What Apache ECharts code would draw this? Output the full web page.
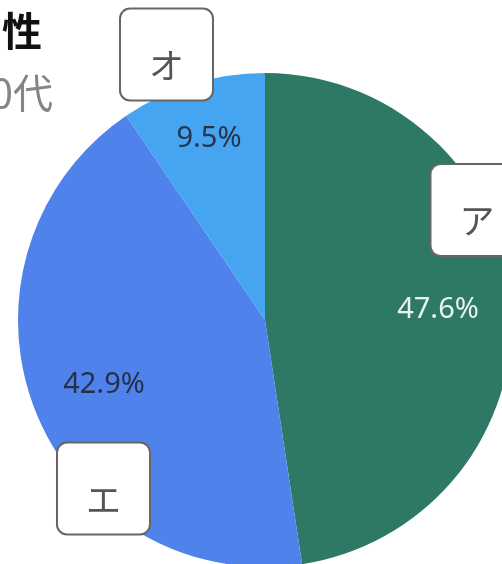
<!DOCTYPE html>
<html><head><meta charset="utf-8">
<script src="https://cdn.jsdelivr.net/npm/echarts@6/dist/echarts.min.js"></script>
<style>html,body{margin:0;padding:0;background:#fff;overflow:hidden}#c{width:502px;height:564px}</style>
</head><body><div id="c"></div>
<script>
// ---- data ----
const categories = ['ア', 'エ', 'オ'];
const values = [47.6, 42.9, 9.5];
const titleText = '男性';
const subtitleText = '20代';

// ---- styles ----
const sliceColors = ['#2e7866', '#5082eb', '#46a5f0'];
const pctColors = ['#e8f2ee', '#27304a', '#27344c'];
const pctPos = [[438, 310], [104, 385], [209, 139]];
const boxPos = [[477, 210], [103.5, 488.5], [166.5, 54.5]];

const chart = echarts.init(document.getElementById('c'), null, {renderer: 'canvas'});

const pieData = categories.map((name, i) => ({
  name: name,
  value: values[i],
  itemStyle: {color: sliceColors[i]},
  label: {color: pctColors[i]}
}));
const boxData = categories.map((name, i) => ({name: name, value: values[i]}));

const common = {
  type: 'pie',
  center: [265, 320],
  radius: [0, 247],
  startAngle: 90,
  clockwise: true,
  avoidLabelOverlap: false,
  labelLine: {show: false},
  emphasis: {disabled: true},
  animation: false
};

chart.setOption({
  backgroundColor: '#ffffff',
  animation: false,
  graphic: [
    {type: 'text', x: 42, y: 31, style: {text: titleText, align: 'right', verticalAlign: 'middle',
      font: 'bold 40px "Noto Sans CJK JP"', fill: '#111111'}},
    {type: 'text', x: 53, y: 93, style: {text: subtitleText, align: 'right', verticalAlign: 'middle',
      font: '40px "Noto Sans CJK JP"', fill: '#858585'}}
  ],
  series: [
    Object.assign({}, common, {
      data: pieData,
      itemStyle: {borderWidth: 0},
      label: {
        show: true, position: 'inside',
        formatter: p => p.value.toFixed(1) + '%',
        fontFamily: 'Noto Sans', fontSize: 29, fontWeight: 'normal'
      },
      labelLayout: function (params) {
        const p = pctPos[params.dataIndex];
        return {x: p[0], y: p[1], align: 'center', verticalAlign: 'middle'};
      }
    }),
    Object.assign({}, common, {
      silent: true,
      data: boxData,
      itemStyle: {color: 'rgba(0,0,0,0)', borderWidth: 0},
      label: {
        show: true, position: 'inside',
        formatter: p => '{s| }\n{t|' + p.name + '}',
        backgroundColor: '#ffffff', borderColor: '#666666', borderWidth: 2, borderRadius: 9,
        padding: [16.5, 28, 16.5, 28],
        rich: {
          s: {fontSize: 2, lineHeight: 22, height: 22},
          t: {fontFamily: 'Noto Sans CJK JP', fontSize: 35, lineHeight: 35, color: '#555555'}
        }
      },
      labelLayout: function (params) {
        const p = boxPos[params.dataIndex];
        return {x: p[0], y: p[1], align: 'center', verticalAlign: 'middle'};
      }
    })
  ]
});
</script>
</body></html>
